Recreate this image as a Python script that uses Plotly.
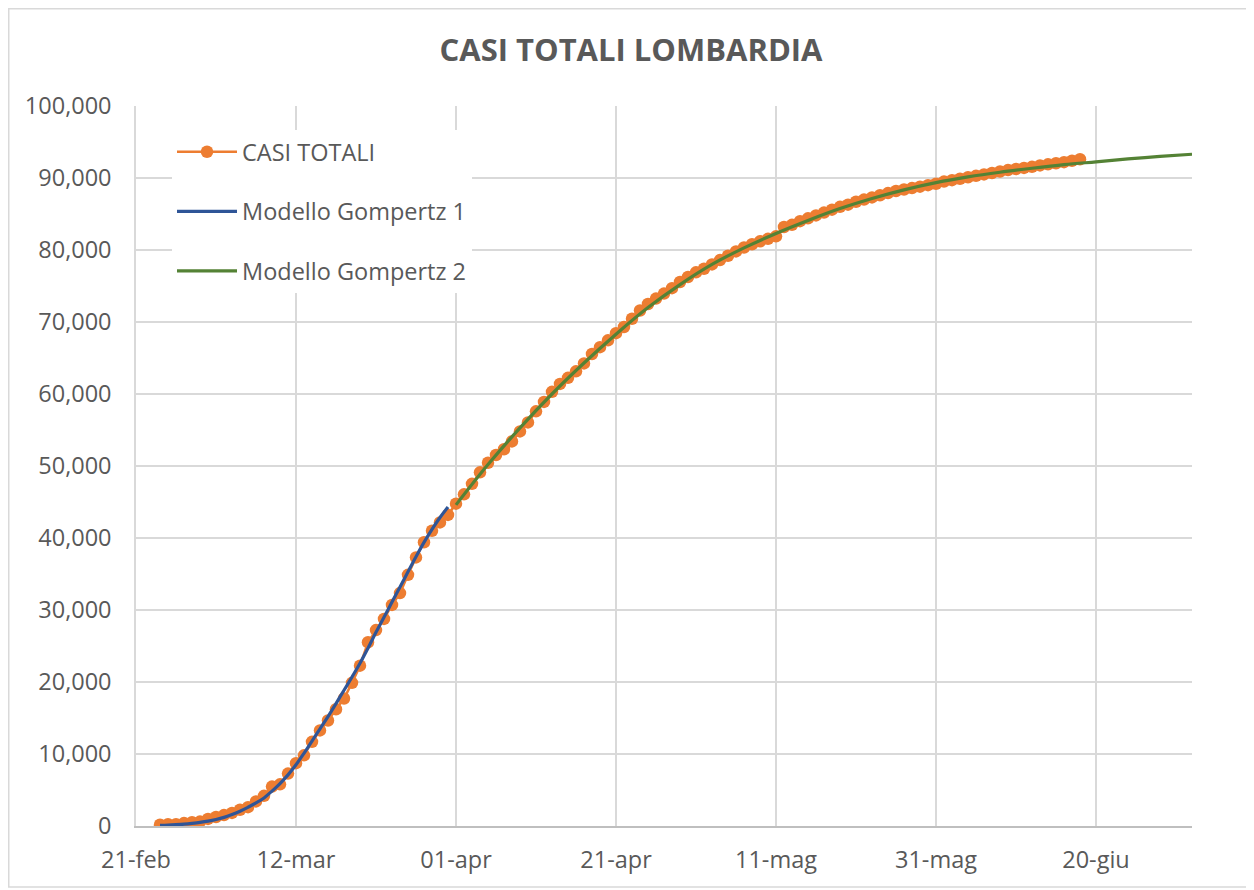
import pandas as pd
import plotly.graph_objects as go

# ---- data ----
casi_start = "2020-02-24"
casi_totali = [
    172, 240, 258, 403, 531, 615,
    984, 1254, 1520, 1820, 2251, 2612, 3420, 4189, 5469, 5791,
    7280, 8725, 9820, 11685, 13272, 14649, 16220, 17713, 19884, 22264,
    25515, 27206, 28761, 30703, 32346, 34889, 37298, 39415, 41007, 42161, 43208,
    44773, 46065, 47520, 49118, 50455, 51534, 52325, 53414, 54802, 56048,
    57592, 58900, 60300, 61400, 62250, 63150, 64250, 65550, 66500, 67450,
    68450, 69300, 70450, 71600, 72500, 73250, 73950, 74700, 75550, 76250,
    76900, 77400, 78000, 78600, 79200, 79800, 80350, 80800, 81200, 81550, 81900,
    83200,
    83500, 84000, 84400, 84800, 85200, 85600, 86000, 86300, 86700, 87000,
    87300, 87600, 87900, 88200, 88400, 88600, 88800, 89000, 89200,
    89500, 89700, 89900, 90100, 90300, 90500, 90700, 90900, 91100, 91250,
    91400, 91550, 91750, 91900, 92050, 92200, 92400, 92600,
]

gompertz1_start = "2020-02-24"
gompertz1 = [
    80, 120, 180, 260, 370, 500,
    670, 900, 1200, 1600, 2050, 2600, 3200, 3900, 4850, 5900,
    7100, 8500, 10100, 11800, 13500, 15200, 17000, 18850, 20700, 22600,
    24700, 26900, 29000, 31100, 33200, 35300, 37400, 39400, 41200, 42850, 44300,
]

gompertz2_start = "2020-04-01"
gompertz2_step_days = 4
gompertz2 = [
    44600, 50200, 55300, 60000, 64300, 68300, 72000, 75200,
    78000, 80300, 82300, 84100, 85750, 87150, 88350, 89350,
    90150, 90800, 91350, 91850, 92250, 92650, 93000, 93300,
]

tick_dates = ["2020-02-21", "2020-03-12", "2020-04-01", "2020-04-21",
              "2020-05-11", "2020-05-31", "2020-06-20"]
tick_labels = ["21-feb", "12-mar", "01-apr", "21-apr", "11-mag", "31-mag", "20-giu"]
x_range = ["2020-02-21", "2020-07-02"]

casi_dates = pd.date_range(casi_start, periods=len(casi_totali), freq="D")
g1_dates = pd.date_range(gompertz1_start, periods=len(gompertz1), freq="D")
g2_dates = pd.date_range(gompertz2_start, periods=len(gompertz2), freq=f"{gompertz2_step_days}D")

FONT = "Open Sans"
TXT = "#595959"
TICK_SIZE = 23.5

fig = go.Figure()
fig.add_trace(go.Scatter(
    x=casi_dates, y=casi_totali, name="CASI TOTALI", mode="lines+markers",
    line=dict(color="#ED7D31", width=2.5),
    marker=dict(color="#ED7D31", size=12.5),
    legendgroup="a",
))
fig.add_trace(go.Scatter(
    x=g1_dates, y=gompertz1, name="Modello Gompertz 1", mode="lines",
    line=dict(color="#2F5597", width=3.2, shape="spline"),
    legendgroup="b",
))
fig.add_trace(go.Scatter(
    x=g2_dates, y=gompertz2, name="Modello Gompertz 2", mode="lines",
    line=dict(color="#548235", width=3.2, shape="spline"),
    legendgroup="c",
))

# figure is placed by the page at an 8px offset
OFF = 8
W, H = 1246, 882
L, T = 136 - OFF, 106 - OFF
R = W - (1192 - OFF)
B = H - (826 - OFF)
pw, ph = W - L - R, H - T - B


def px_x(p):
    return (p - OFF - L) / pw


def px_y(p):
    return (H - B - (p - OFF)) / ph


fig.update_layout(
    width=W, height=H,
    margin=dict(l=L, r=R, t=T, b=B),
    paper_bgcolor="white", plot_bgcolor="white",
    font=dict(family=FONT, color=TXT, size=TICK_SIZE),
    title=dict(text="<b>CASI TOTALI LOMBARDIA</b>", x=0.5, xanchor="center",
               y=1 - (50 - OFF) / H, yanchor="middle",
               font=dict(family=FONT, size=31, color=TXT)),
    showlegend=True,
    legend=dict(
        x=px_x(172), y=px_y(130), xanchor="left", yanchor="top",
        bgcolor="white", borderwidth=0,
        traceorder="grouped", tracegroupgap=26,
        font=dict(family=FONT, size=TICK_SIZE, color=TXT),
        itemwidth=60,
    ),
    xaxis=dict(
        type="date", range=x_range,
        tickmode="array", tickvals=tick_dates, ticktext=tick_labels,
        showgrid=True, gridcolor="#d9d9d9", gridwidth=1.5,
        showline=True, linecolor="#bfbfbf", linewidth=2,
        ticks="", ticklabelstandoff=12,
        tickfont=dict(family=FONT, size=TICK_SIZE, color=TXT),
        zeroline=False,
    ),
    yaxis=dict(
        range=[0, 100000], dtick=10000, tickformat=",",
        showgrid=True, gridcolor="#d9d9d9", gridwidth=1.5,
        showline=True, linecolor="#d9d9d9", linewidth=1.5,
        ticks="", ticklabelstandoff=18,
        tickfont=dict(family=FONT, size=TICK_SIZE, color=TXT),
        zeroline=False,
    ),
    shapes=[dict(
        type="rect", xref="paper", yref="paper",
        x0=px_x(8.75), x1=px_x(1250), y0=px_y(887), y1=px_y(8.75),
        line=dict(color="#d9d9d9", width=1.5), fillcolor="rgba(0,0,0,0)",
        layer="below",
    )],
)

fig.write_html("out.html")
